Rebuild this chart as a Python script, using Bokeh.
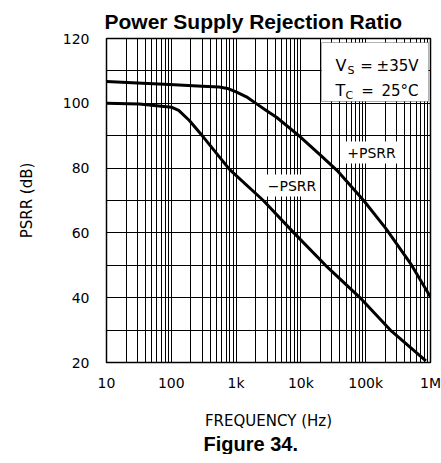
from bokeh.plotting import figure
from bokeh.models import FixedTicker, Label, BoxAnnotation, Title
from bokeh.embed import file_html
from bokeh.resources import INLINE

# ---- data ----
freq_pos = [10, 30, 94, 300, 550, 735, 1000, 1500, 2050, 3000, 4200, 9300,
            20000, 36000, 93000, 204000, 490000, 1000000]
psrr_pos = [106.7, 106.3, 105.8, 105.3, 105.0, 104.6, 103.5, 101.8, 99.9, 97.6,
            95.7, 90.0, 84.0, 79.3, 70.0, 61.4, 50.6, 40.2]

freq_neg = [10, 32, 100, 130, 190, 315, 790, 2630, 7800, 24000, 80000, 240000, 850000]
psrr_neg = [100.0, 99.8, 98.8, 97.8, 94.7, 89.5, 79.6, 70.0, 60.0, 50.0, 40.2, 30.0, 20.5]

x_ticks = [10, 100, 1000, 10000, 100000, 1000000]
x_tick_labels = ["10", "100", "1k", "10k", "100k", "1M"]
y_ticks = [20, 40, 60, 80, 100, 120]
y_minor = [30, 50, 70, 90, 110]

TICK_FONT = "DejaVu Sans"

# frame geometry helpers (page pixels -> data), used only for annotation placement
FX0, FY0, DEC_PX, DB_PX = 106.0, 38.0, 64.8, 3.24
def fx(px):
    return 10 ** (1 + (px - FX0) / DEC_PX)
def fy(py):
    return 120 - (py - FY0) / DB_PX

p = figure(x_axis_type="log", x_range=(10, 1e6), y_range=(20, 120),
           frame_width=324, frame_height=324,
           min_border_left=106, min_border_right=11, min_border_top=38, min_border_bottom=10,
           output_backend="svg", toolbar_location=None,
           background_fill_color="white", border_fill_color="white")

p.outline_line_color = "black"
p.outline_line_width = 1.5

minor_x = [m * 10 ** d for d in range(1, 6) for m in range(2, 10)]
p.xaxis.ticker = FixedTicker(ticks=x_ticks, minor_ticks=minor_x)
p.yaxis.ticker = FixedTicker(ticks=y_ticks, minor_ticks=y_minor)
p.xaxis.major_label_overrides = {t: l for t, l in zip(x_ticks, x_tick_labels)}

for ax in (p.xaxis[0], p.yaxis[0]):
    ax.axis_line_color = None
    ax.major_tick_line_color = None
    ax.minor_tick_line_color = None
    ax.major_label_text_font = TICK_FONT
    ax.major_label_text_font_size = "14px"
    ax.major_label_text_color = "black"
    ax.axis_label_text_font = TICK_FONT
    ax.axis_label_text_font_size = "15px"
    ax.axis_label_text_font_style = "normal"
    ax.axis_label_text_color = "black"

p.yaxis.axis_label = "PSRR (dB)"
p.xaxis.major_label_standoff = 6
p.yaxis.major_label_standoff = 11
p.yaxis.axis_label_standoff = 24

for g in (p.xgrid[0], p.ygrid[0]):
    g.grid_line_color = "black"
    g.grid_line_width = 1
    g.minor_grid_line_color = "black"
    g.minor_grid_line_width = 1

p.line(freq_pos, psrr_pos, line_color="black", line_width=3)
p.line(freq_neg, psrr_neg, line_color="black", line_width=3)

# conditions box
p.add_layout(BoxAnnotation(left=fx(321), right=fx(428), bottom=fy(101), top=fy(42),
                           fill_color="white", fill_alpha=1.0,
                           line_color="black", line_width=1))

def lab(x, y, text, size, align="left", baseline="alphabetic", bg=None, **extra):
    kw = dict(extra)
    if bg:
        kw.update(background_fill_color=bg, background_fill_alpha=1.0)
    p.add_layout(Label(x=x, y=y, text=text, text_font=TICK_FONT,
                       text_font_size=size, text_color="black",
                       text_align=align, text_baseline=baseline, **kw))

lab(fx(335), fy(65), "V", "16px")
lab(fx(347), fy(69.5), "S", "11px")
lab(fx(366), fy(65), "=", "15px", align="center")
lab(fx(418), fy(65), "\u00b135V", "15px", align="right")
lab(fx(335), fy(90), "T", "16px")
lab(fx(345), fy(94.5), "C", "11px")
lab(fx(367), fy(90), "=", "15px", align="center")
lab(fx(418), fy(90), "25\u00b0C", "15px", align="right")

lab(fx(371), fy(152), "+PSRR", "14px", align="center", baseline="middle", bg="white", padding=3)
lab(fx(291.5), fy(185), "\u2212PSRR", "14px", align="center", baseline="middle", bg="white", padding=3)

# title, axis caption and figure caption
p.title = Title(text="Power Supply Rejection Ratio", align="left", offset=-2,
                text_font="Liberation Sans", text_font_style="bold",
                text_font_size="21px", text_color="black", standoff=12)

# spacer between the tick labels and the axis caption
p.add_layout(Title(text=" ", text_font_size="1px", standoff=12), "below")

p.add_layout(Title(text="FREQUENCY (Hz)", align="center",
                   text_font=TICK_FONT, text_font_style="normal",
                   text_font_size="15px", text_color="black", standoff=2), "below")

p.add_layout(Title(text="Figure 34.", align="left", offset=97,
                   text_font="Liberation Sans", text_font_style="bold",
                   text_font_size="20px", text_color="black", standoff=0), "below")

open("out.html", "w").write(file_html(p, INLINE))
